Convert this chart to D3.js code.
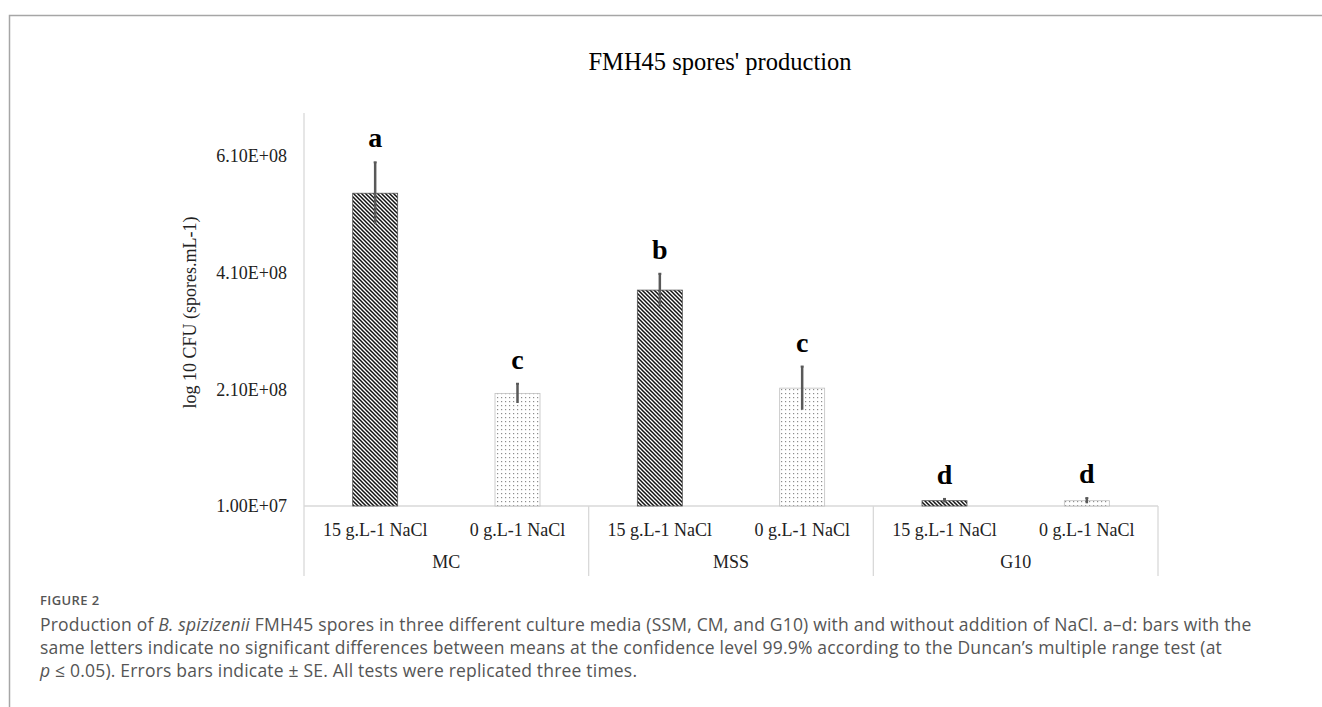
<!DOCTYPE html>
<html>
<head>
<meta charset="utf-8">
<script src="https://cdn.jsdelivr.net/npm/d3@7"></script>
<style>
    body { margin: 0; background: #fff; }
    svg { display: block; }
    .serif { font-family: "Liberation Serif", "Times New Roman", serif; }
    .caption { font-family: "Open Sans", sans-serif; fill: #555; }
</style>
</head>
<body>
<svg id="chart" width="1322" height="707"></svg>
<script>
// chart values
const media = ["MC", "MSS", "G10"];
const treatments = ["15 g.L-1 NaCl", "0 g.L-1 NaCl"];
const salt15 = [5.46e8, 3.80e8, 1.91e7];
const salt0 = [2.03e8, 2.12e8, 1.91e7];
const se15 = [5.3e7, 2.8e7, 3.0e6];
const se0 = [1.65e7, 3.7e7, 4.5e6];
const letters15 = ["a", "b", "d"];
const letters0 = ["c", "c", "d"];
const yTicks = [1.0e7, 2.1e8, 4.1e8, 6.1e8];

const captionLines = [
    [["Production of ", false], ["B. spizizenii", true], [" FMH45 spores in three different culture media (SSM, CM, and G10) with and without addition of NaCl. a\u2013d: bars with the", false]],
    [["same letters indicate no significant differences between means at the confidence level 99.9% according to the Duncan\u2019s multiple range test (at", false]],
    [["p", true], [" \u2264 0.05). Errors bars indicate \u00b1 SE. All tests were replicated three times.", false]]
];

const svg = d3.select("#chart");
const plotLeft = 304, plotRight = 1158, plotTop = 113, plotBottom = 506;

// frame of the figure panel
svg.append("path")
    .attr("d", "M9.5,707 L9.5,15.5 L1322,15.5")
    .attr("fill", "none")
    .attr("stroke", "#a6a6a6")
    .attr("stroke-width", 1.5);

// patterns
const defs = svg.append("defs");
const hatch = defs.append("pattern")
    .attr("id", "hatch")
    .attr("patternUnits", "userSpaceOnUse")
    .attr("width", 4).attr("height", 4);
hatch.append("rect").attr("width", 4).attr("height", 4).attr("fill", "#fff");
hatch.append("path")
    .attr("d", "M-1,-1 L5,5 M-1,3 L1,5 M3,-1 L5,1")
    .attr("stroke", "#111")
    .attr("stroke-width", 1.5);

const dots = defs.append("pattern")
    .attr("id", "dots")
    .attr("patternUnits", "userSpaceOnUse")
    .attr("width", 4).attr("height", 4);
dots.append("rect").attr("width", 4).attr("height", 4).attr("fill", "#fff");
dots.append("rect").attr("x", 1).attr("y", 1).attr("width", 1.2).attr("height", 1.2).attr("fill", "#8c8c8c");

// scales
const x0 = d3.scaleBand().domain(media).range([plotLeft, plotRight]).padding(0);
const x1 = d3.scaleBand().domain(treatments).range([0, x0.bandwidth()])
    .paddingInner(0.684).paddingOuter(0.342);
const y = d3.scaleLinear().domain([1.0e7, 6.835e8]).range([plotBottom, plotTop]);

const rows = [];
media.forEach((m, i) => {
    rows.push({ m: m, t: treatments[0], v: salt15[i], se: se15[i], letter: letters15[i], fill: "url(#hatch)", stroke: "#555" });
    rows.push({ m: m, t: treatments[1], v: salt0[i], se: se0[i], letter: letters0[i], fill: "url(#dots)", stroke: "#bfbfbf" });
});

// title
svg.append("text").attr("class", "serif")
    .attr("x", 720).attr("y", 70)
    .attr("text-anchor", "middle")
    .style("font-size", "24.5px")
    .text("FMH45 spores' production");

// y axis
const yAxis = svg.append("g")
    .attr("transform", `translate(${plotLeft},0)`)
    .call(d3.axisLeft(y).tickValues(yTicks).tickSize(0).tickPadding(17)
        .tickFormat(d => {
            const [mant, exp] = d.toExponential(2).toUpperCase().split("E");
            const sign = exp[0];
            const num = exp.slice(1).padStart(2, "0");
            return mant + "E" + sign + num;
        }));
yAxis.select(".domain").remove();
yAxis.selectAll("text").attr("class", "serif").style("font-size", "18px").attr("fill", "#222");

svg.append("line")
    .attr("x1", plotLeft).attr("x2", plotLeft)
    .attr("y1", plotTop).attr("y2", 576)
    .attr("stroke", "#d9d9d9").attr("stroke-width", 1.3);

svg.append("text").attr("class", "serif")
    .attr("transform", `translate(196,${(plotTop + plotBottom) / 2 + 3}) rotate(-90)`)
    .attr("text-anchor", "middle")
    .style("font-size", "18px")
    .attr("fill", "#222")
    .text("log 10 CFU (spores.mL-1)");

// category axis (two levels)
svg.append("line")
    .attr("x1", plotLeft).attr("x2", plotRight)
    .attr("y1", plotBottom).attr("y2", plotBottom)
    .attr("stroke", "#d9d9d9").attr("stroke-width", 1.3);

svg.selectAll(".sep")
    .data(media)
    .join("line")
    .attr("class", "sep")
    .attr("x1", d => x0(d) + x0.bandwidth()).attr("x2", d => x0(d) + x0.bandwidth())
    .attr("y1", plotBottom).attr("y2", 576)
    .attr("stroke", "#d9d9d9").attr("stroke-width", 1.3);

svg.selectAll(".sub-label")
    .data(rows)
    .join("text")
    .attr("class", "serif sub-label")
    .attr("x", d => x0(d.m) + x1(d.t) + x1.bandwidth() / 2)
    .attr("y", 536)
    .attr("text-anchor", "middle")
    .style("font-size", "18px")
    .attr("fill", "#222")
    .text(d => d.t);

svg.selectAll(".group-label")
    .data(media)
    .join("text")
    .attr("class", "serif group-label")
    .attr("x", d => x0(d) + x0.bandwidth() / 2)
    .attr("y", 568)
    .attr("text-anchor", "middle")
    .style("font-size", "18px")
    .attr("fill", "#222")
    .text(d => d);

// bars
svg.selectAll(".bar")
    .data(rows)
    .join("rect")
    .attr("class", "bar")
    .attr("x", d => x0(d.m) + x1(d.t))
    .attr("y", d => y(d.v))
    .attr("width", x1.bandwidth())
    .attr("height", d => plotBottom - y(d.v))
    .attr("fill", d => d.fill)
    .attr("stroke", d => d.stroke)
    .attr("stroke-width", 0.8);

// error bars
const err = svg.selectAll(".err")
    .data(rows)
    .join("g")
    .attr("class", "err")
    .attr("transform", d => `translate(${x0(d.m) + x1(d.t) + x1.bandwidth() / 2},0)`)
    .attr("stroke", "#595959");
err.append("line")
    .attr("y1", d => y(d.v + d.se)).attr("y2", d => Math.min(y(d.v - d.se), plotBottom))
    .attr("stroke-width", 2.5);
err.append("line")
    .attr("x1", -1.5).attr("x2", 1.5)
    .attr("y1", d => y(d.v + d.se)).attr("y2", d => y(d.v + d.se))
    .attr("stroke-width", 2);

// significance letters
svg.selectAll(".letter")
    .data(rows)
    .join("text")
    .attr("class", "serif letter")
    .attr("x", d => x0(d.m) + x1(d.t) + x1.bandwidth() / 2)
    .attr("y", d => y(d.v + d.se) - 15)
    .attr("text-anchor", "middle")
    .style("font-size", "28px")
    .style("font-weight", "bold")
    .text(d => d.letter);

// figure caption
svg.append("text").attr("class", "caption")
    .attr("x", 40).attr("y", 605)
    .style("font-size", "13px")
    .style("font-weight", 600)
    .style("letter-spacing", "0.4px")
    .attr("fill", "#666")
    .text("FIGURE 2");

captionLines.forEach((line, i) => {
    const t = svg.append("text").attr("class", "caption")
        .attr("x", 40).attr("y", 631 + i * 23)
        .style("font-size", "17.5px")
        .style("letter-spacing", "0.2px");
    line.forEach(([str, it]) => {
        t.append("tspan").style("font-style", it ? "italic" : "normal").text(str);
    });
});
</script>
</body>
</html>
